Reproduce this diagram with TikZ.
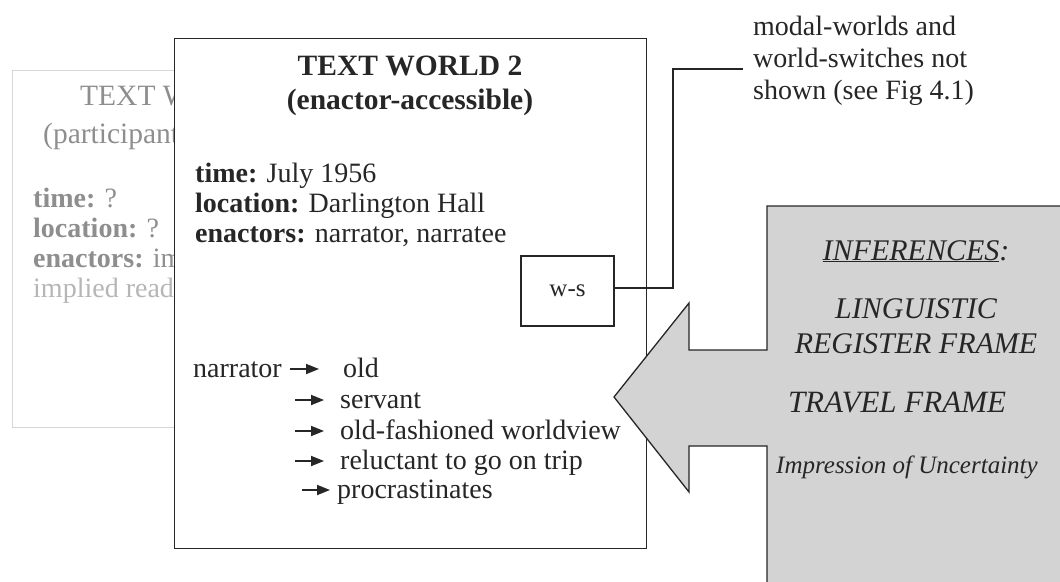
\documentclass[tikz,border=0pt]{standalone}
\usepackage{fontspec}
\setmainfont{Liberation Serif}
\usetikzlibrary{arrows.meta}
\definecolor{ink}{HTML}{262626}
\definecolor{infgray}{HTML}{D3D3D3}
\definecolor{faintA}{HTML}{8E8E8E}
\definecolor{faintB}{HTML}{B6B6B6}
\definecolor{faintline}{HTML}{D6D6D6}
\begin{document}
\begin{tikzpicture}[x=1pt,y=-1pt,
  body/.style={font=\fontsize{28}{30}\selectfont, inner sep=0pt, anchor=base west, text=ink},
  ttl/.style={font=\fontsize{29.5}{32}\selectfont\bfseries, inner sep=0pt, anchor=base, text=ink},
  faintttl/.style={font=\fontsize{29.5}{32}\selectfont, inner sep=0pt, anchor=base west, text=faintA},
  faintbody/.style={font=\fontsize{28}{30}\selectfont, inner sep=0pt, anchor=base west, text=faintA},
  inftxt/.style={font=\fontsize{30}{32}\selectfont\itshape, inner sep=0pt, anchor=base, text=ink},
  listarrow/.style={draw=ink, line width=1.8pt, -{Triangle[length=13pt,width=10pt]}},
  frame/.style={draw=ink, line width=1.3pt},
  leader/.style={draw=ink, line width=1.1pt}
]
\useasboundingbox (0,0) rectangle (1060,581);

% faint background text world
\draw[faintline, line width=0.9pt] (12,70) rectangle (380,427);
\begin{scope}
  \clip (0,0) rectangle (174,581);
  \node[faintttl] (fw1) at (80,105) {TEXT WORLD 1};
  \node[faintttl] (fw1sub) at (43,143) {(participant-accessible)};
  \node[faintbody] (ftime) at (33,207) {\textbf{time:} ?};
  \node[faintbody] (floc) at (33,237) {\textbf{location:} ?};
  \node[faintbody] (fenac) at (33,267) {\textbf{enactors:} implied author,};
  \node[faintbody, text=faintB] (fimpl) at (33,297) {implied reader};
\end{scope}

% main text world
\node[frame, fill=white, anchor=north west, minimum width=472pt, minimum height=510pt] (tw2) at (174,38) {};
\node[ttl] (tw2title) at (410,75) {TEXT WORLD 2};
\node[ttl] (tw2sub) at (410,109) {(enactor-accessible)};
\node[body] (time) at (195,182) {\textbf{time:} July 1956};
\node[body] (loc) at (195,212) {\textbf{location:} Darlington Hall};
\node[body] (enac) at (195,242) {\textbf{enactors:} narrator, narratee};

\node[body] (narr) at (193,377) {narrator};
\node[body] (old) at (343,377) {old};
\node[body] (serv) at (340,408) {servant};
\node[body] (oldf) at (340,439) {old-fashioned worldview};
\node[body] (reluc) at (340,469) {reluctant to go on trip};
\node[body] (procr) at (337,498) {procrastinates};
\draw[listarrow] (290,369) -- (319,369);
\draw[listarrow] (295,400) -- (324,400);
\draw[listarrow] (295,431) -- (324,431);
\draw[listarrow] (295,461) -- (324,461);
\draw[listarrow] (302,490) -- (330,490);

% world-switch box and leader
\node[frame, line width=1.2pt, minimum width=93pt, minimum height=70pt, inner sep=0pt,
      font=\fontsize{25}{27}\selectfont, text=ink] (ws) at (567.5,291) {w-s};
\coordinate (bend) at (673,69);
\coordinate (lead) at (743,69);
\draw[leader] ([yshift=3pt]ws.east) -| (bend) -- (lead);

% inferences block arrow
\draw[frame, fill=infgray] (767,600) -- (767,446) -- (689,446) -- (689,492) -- (614,397)
  -- (689,303) -- (689,350) -- (767,350) -- (767,206) -- (1080,206) -- (1080,600) -- cycle;
\node[inftxt] (inf) at (916,260) {\underline{INFERENCES}:};
\node[inftxt] (ling) at (916,318) {LINGUISTIC};
\node[inftxt] (reg) at (916,353) {REGISTER FRAME};
\node[inftxt, font=\fontsize{31}{33}\selectfont\itshape] (trav) at (897,412) {TRAVEL FRAME};
\node[inftxt, font=\fontsize{25}{27}\selectfont\itshape] (impr) at (907,473) {Impression of Uncertainty};

% note on modal worlds
\node[body] (note1) at (753,35) {modal-worlds and};
\node[body] (note2) at (753,67) {world-switches not};
\node[body] (note3) at (753,99) {shown (see Fig 4.1)};
\end{tikzpicture}
\end{document}
